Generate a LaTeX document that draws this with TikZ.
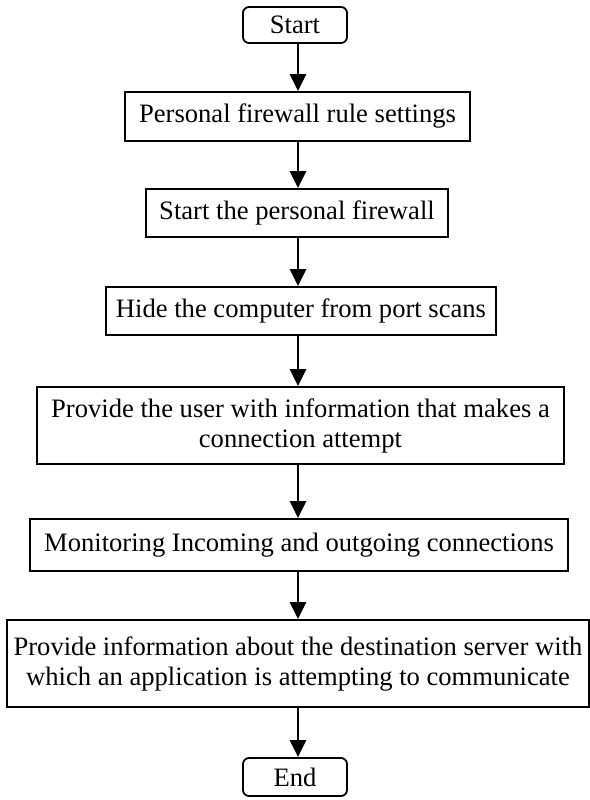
\documentclass[tikz,border=0pt]{standalone}
\usepackage{fontspec}
\setmainfont{Liberation Serif}
\usetikzlibrary{arrows.meta}
\tikzset{
  stepbox/.style={draw=black, line width=1.8bp, fill=white, inner sep=0pt,
    align=center, font=\fontsize{26.6bp}{30bp}\selectfont},
  termbox/.style={stepbox, rounded corners=6bp},
  flow/.style={line width=2.6bp, -{Triangle[length=17bp,width=16bp]}},
}
\begin{document}
\begin{tikzpicture}[x=1bp,y=-1bp]
  \useasboundingbox (0,0) rectangle (590,800);
  % terminals and process steps, top to bottom
  \node[termbox, minimum width=104bp, minimum height=36bp] (start) at (295,25) {Start};
  \node[stepbox, minimum width=345bp, minimum height=49bp] (rules) at (297.5,116.5) {Personal firewall rule settings};
  \node[stepbox, minimum width=302bp, minimum height=48bp] (run) at (297,213) {Start the personal firewall};
  \node[stepbox, minimum width=390bp, minimum height=48bp] (hide) at (301,311) {Hide the computer from port scans};
  \node[stepbox, minimum width=527bp, minimum height=77bp] (inform) at (300.5,425.5) {Provide the user with information that makes a\\connection attempt};
  \node[stepbox, minimum width=538bp, minimum height=52bp] (monitor) at (299,545) {Monitoring Incoming and outgoing connections};
  \node[stepbox, minimum width=582bp, minimum height=87bp] (dest) at (298,663.5) {Provide information about the destination server with\\which an application is attempting to communicate};
  \node[termbox, minimum width=104bp, minimum height=38bp] (end) at (295,777) {End};
  % vertical axis shared by all connectors
  \coordinate (axis) at (298,0);
  \draw[flow] (start.south -| axis) -- (rules.north -| axis);
  \draw[flow] (rules.south -| axis) -- (run.north -| axis);
  \draw[flow] (run.south -| axis) -- (hide.north -| axis);
  \draw[flow] (hide.south -| axis) -- (inform.north -| axis);
  \draw[flow] (inform.south -| axis) -- (monitor.north -| axis);
  \draw[flow] (monitor.south -| axis) -- (dest.north -| axis);
  \draw[flow] (dest.south -| axis) -- (end.north -| axis);
\end{tikzpicture}
\end{document}
